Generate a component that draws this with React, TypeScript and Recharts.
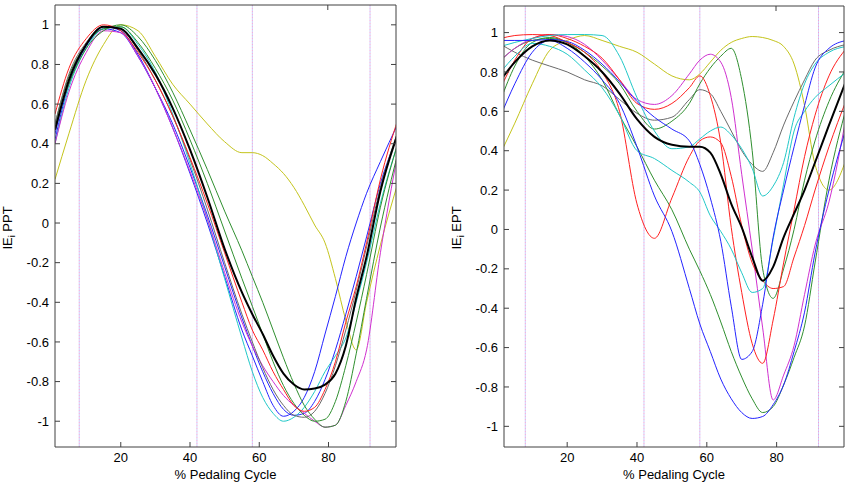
import { LineChart, Line, XAxis, YAxis, ReferenceLine } from 'recharts'

// % of pedaling cycle where the curves were sampled
const cyclePct = [1, 5, 10, 15, 20, 25, 30, 35, 40, 45, 50, 55, 58, 61, 64, 67, 70, 73, 76, 79, 82, 85, 88, 91, 95, 100]
const phaseLines = [8, 42, 58, 92]
const xTicks = [20, 40, 60, 80]
const yTicks = [-1, -0.8, -0.6, -0.4, -0.2, 0, 0.2, 0.4, 0.6, 0.8, 1]

// IE_i PPT (left panel)
const pptYellow = [0.22, 0.45, 0.72, 0.9, 1.0, 0.97, 0.84, 0.7, 0.6, 0.5, 0.41, 0.355, 0.355, 0.34, 0.3, 0.25, 0.18, 0.09, -0.01, -0.1, -0.28, -0.49, -0.64, -0.4, -0.11, 0.2]
const pptBlue1 = [0.45, 0.72, 0.9, 0.99, 0.97, 0.85, 0.68, 0.48, 0.25, 0.0, -0.27, -0.54, -0.67, -0.8, -0.92, -0.975, -0.95, -0.88, -0.75, -0.56, -0.37, -0.17, 0.0, 0.15, 0.31, 0.5]
const pptBlue2 = [0.42, 0.7, 0.89, 0.98, 0.96, 0.84, 0.68, 0.5, 0.28, 0.04, -0.22, -0.48, -0.62, -0.75, -0.86, -0.94, -0.97, -0.96, -0.9, -0.79, -0.64, -0.46, -0.27, -0.07, 0.2, 0.44]
const pptCyan = [0.4, 0.68, 0.88, 0.98, 0.99, 0.9, 0.76, 0.55, 0.3, 0.02, -0.28, -0.58, -0.75, -0.88, -0.96, -1.0, -0.98, -0.93, -0.85, -0.75, -0.67, -0.58, -0.4, -0.2, 0.1, 0.4]
const pptMagenta = [0.4, 0.66, 0.86, 0.97, 0.96, 0.84, 0.68, 0.48, 0.26, 0.02, -0.25, -0.5, -0.62, -0.72, -0.8, -0.87, -0.92, -0.96, -1.0, -1.03, -1.02, -0.92, -0.8, -0.64, -0.15, 0.35]
const pptGreen1 = [0.5, 0.74, 0.9, 0.98, 0.99, 0.91, 0.78, 0.62, 0.42, 0.2, -0.04, -0.28, -0.42, -0.56, -0.7, -0.82, -0.91, -0.97, -1.0, -0.99, -0.9, -0.72, -0.5, -0.26, 0.08, 0.4]
const pptGreen2 = [0.48, 0.7, 0.88, 0.97, 1.0, 0.94, 0.82, 0.66, 0.47, 0.27, 0.06, -0.14, -0.27, -0.4, -0.54, -0.68, -0.81, -0.92, -0.99, -1.03, -1.02, -0.9, -0.66, -0.38, -0.02, 0.35]
const pptGrey = [0.5, 0.75, 0.91, 0.99, 0.98, 0.87, 0.72, 0.54, 0.32, 0.07, -0.2, -0.46, -0.6, -0.73, -0.84, -0.92, -0.97, -0.98, -0.95, -0.86, -0.72, -0.54, -0.34, -0.12, 0.18, 0.46]
const pptRed = [0.55, 0.78, 0.93, 1.0, 0.97, 0.86, 0.72, 0.54, 0.33, 0.1, -0.15, -0.4, -0.54, -0.64, -0.75, -0.84, -0.92, -0.95, -0.93, -0.84, -0.7, -0.5, -0.32, -0.1, 0.22, 0.52]
const pptMean = [0.47, 0.72, 0.9, 0.99, 0.98, 0.88, 0.75, 0.58, 0.37, 0.13, -0.13, -0.35, -0.46, -0.56, -0.67, -0.76, -0.815, -0.84, -0.835, -0.815, -0.76, -0.62, -0.38, -0.17, 0.16, 0.45]

// IE_i EPT (right panel)
const eptYellow = [0.39, 0.54, 0.74, 0.91, 0.96, 0.985, 0.96, 0.93, 0.9, 0.84, 0.78, 0.76, 0.79, 0.85, 0.91, 0.95, 0.97, 0.98, 0.975, 0.96, 0.93, 0.84, 0.63, 0.33, 0.2, 0.36]
const eptGrey = [0.94, 0.9, 0.86, 0.83, 0.8, 0.76, 0.73, 0.66, 0.59, 0.555, 0.57, 0.66, 0.71, 0.69, 0.6, 0.5, 0.4, 0.33, 0.295, 0.39, 0.53, 0.65, 0.76, 0.86, 0.91, 0.94]
const eptGreenA = [0.86, 0.92, 0.96, 0.97, 0.95, 0.9, 0.83, 0.74, 0.6, 0.51, 0.55, 0.64, 0.74, 0.82, 0.88, 0.92, 0.76, 0.4, -0.2, -0.35, -0.2, 0.0, 0.25, 0.45, 0.65, 0.82]
const eptGreenB = [0.66, 0.83, 0.95, 0.975, 0.95, 0.88, 0.76, 0.58, 0.42, 0.25, 0.1, -0.1, -0.21, -0.33, -0.47, -0.62, -0.75, -0.86, -0.93, -0.9, -0.79, -0.65, -0.49, -0.17, 0.25, 0.62]
const eptMagenta = [0.86, 0.92, 0.97, 0.99, 0.98, 0.94, 0.86, 0.76, 0.66, 0.635, 0.68, 0.79, 0.86, 0.89, 0.85, 0.67, 0.28, -0.1, -0.5, -0.866, -0.74, -0.59, -0.33, -0.08, 0.14, 0.58]
const eptRedA = [0.72, 0.86, 0.97, 0.99, 0.97, 0.93, 0.87, 0.76, 0.64, 0.61, 0.64, 0.72, 0.78, 0.68, 0.44, 0.01, -0.32, -0.58, -0.68, -0.46, -0.17, 0.1, 0.37, 0.58, 0.78, 0.92]
const eptRedB = [0.97, 0.985, 0.99, 0.985, 0.95, 0.9, 0.8, 0.6, 0.13, -0.045, 0.16, 0.37, 0.45, 0.47, 0.44, 0.27, 0.02, -0.17, -0.26, -0.3, -0.29, -0.14, 0.02, 0.2, 0.42, 0.66]
const eptCyanA = [0.93, 0.95, 0.97, 0.985, 0.99, 0.99, 0.985, 0.88, 0.67, 0.5, 0.41, 0.42, 0.46, 0.5, 0.52, 0.48, 0.41, 0.31, 0.17, 0.22, 0.34, 0.57, 0.74, 0.84, 0.9, 0.93]
const eptCyanB = [0.8, 0.88, 0.945, 0.93, 0.89, 0.81, 0.72, 0.58, 0.4, 0.36, 0.3, 0.24, 0.19, 0.07, -0.01, -0.1, -0.22, -0.32, -0.3, -0.05, 0.23, 0.5, 0.6, 0.67, 0.73, 0.8]
const eptBlueA = [0.96, 0.96, 0.96, 0.965, 0.955, 0.91, 0.84, 0.75, 0.65, 0.57, 0.51, 0.45, 0.33, 0.16, -0.06, -0.39, -0.66, -0.62, -0.38, -0.04, 0.2, 0.42, 0.63, 0.82, 0.92, 0.96]
const eptBlueB = [0.58, 0.74, 0.9, 0.96, 0.92, 0.85, 0.76, 0.64, 0.42, 0.17, -0.01, -0.3, -0.48, -0.62, -0.76, -0.86, -0.93, -0.96, -0.95, -0.89, -0.79, -0.62, -0.42, -0.12, 0.2, 0.52]
const eptMean = [0.76, 0.85, 0.93, 0.96, 0.94, 0.88, 0.8, 0.69, 0.56, 0.47, 0.43, 0.42, 0.42, 0.39, 0.28, 0.13, 0.01, -0.14, -0.26, -0.19, -0.04, 0.08, 0.2, 0.34, 0.53, 0.76]

const BLUE = '#2424ff'
const GREEN = '#2f8f2f'
const RED = '#ff2020'
const CYAN = '#20c8c8'
const MAGENTA = '#d030d0'
const YELLOW = '#c4c41c'
const GREY = '#6a6a6a'
const AXIS = '#404040'

type Trace = { key: string; values: number[]; color: string; width?: number }

const pptTraces: Trace[] = [
  { key: 'yellow', values: pptYellow, color: YELLOW },
  { key: 'blue1', values: pptBlue1, color: BLUE },
  { key: 'blue2', values: pptBlue2, color: BLUE },
  { key: 'cyan', values: pptCyan, color: CYAN },
  { key: 'magenta', values: pptMagenta, color: MAGENTA },
  { key: 'green1', values: pptGreen1, color: GREEN },
  { key: 'green2', values: pptGreen2, color: GREEN },
  { key: 'grey', values: pptGrey, color: GREY },
  { key: 'red', values: pptRed, color: RED },
  { key: 'mean', values: pptMean, color: '#000', width: 2 },
]

const eptTraces: Trace[] = [
  { key: 'yellow', values: eptYellow, color: YELLOW },
  { key: 'grey', values: eptGrey, color: GREY },
  { key: 'greenA', values: eptGreenA, color: GREEN },
  { key: 'greenB', values: eptGreenB, color: GREEN },
  { key: 'magenta', values: eptMagenta, color: MAGENTA },
  { key: 'redA', values: eptRedA, color: RED },
  { key: 'redB', values: eptRedB, color: RED },
  { key: 'cyanA', values: eptCyanA, color: CYAN },
  { key: 'cyanB', values: eptCyanB, color: CYAN },
  { key: 'blueA', values: eptBlueA, color: BLUE },
  { key: 'blueB', values: eptBlueB, color: BLUE },
  { key: 'mean', values: eptMean, color: '#000', width: 2 },
]

const toRows = (traces: Trace[]) =>
  cyclePct.map((x, i) => {
    const row: Record<string, number> = { x }
    traces.forEach((t) => {
      row[t.key] = t.values[i]
    })
    return row
  })

const YName = ({ name }: { name: string }) => (
  <text x={12} y={228} transform="rotate(-90 12 228)" textAnchor="middle" fontSize={13} fill="#000">
    IE
    <tspan dy={3} fontSize={9}>i</tspan>
    <tspan dy={-3}>{' ' + name}</tspan>
  </text>
)

interface PanelProps {
  traces: Trace[]
  name: string
  left: number
  top: number
  right: number
  xDomain: [number, number]
  yDomain: [number, number]
}

// MATLAB-style boxed axes: mirrored top/right axes carry inward ticks only
const Panel = ({ traces, name, left, top, right, xDomain, yDomain }: PanelProps) => (
  <div style={{ position: 'absolute', left, top: 0 }}>
    <LineChart width={400} height={487} data={toRows(traces)} margin={{ top: top - 1, right: right - 1, bottom: 0, left: 0 }}>
      <XAxis
        dataKey="x"
        type="number"
        domain={xDomain}
        allowDataOverflow
        ticks={xTicks}
        height={40}
        tickSize={-5}
        tickMargin={11}
        stroke={AXIS}
        tick={{ fill: '#000', fontSize: 13 }}
        label={{ value: '% Pedaling Cycle', position: 'insideBottom', offset: 8, fill: '#000', fontSize: 13 }}
      />
      <XAxis
        xAxisId="top"
        orientation="top"
        type="number"
        domain={xDomain}
        allowDataOverflow
        ticks={xTicks}
        height={1}
        tickSize={-5}
        tickFormatter={() => ''}
        stroke={AXIS}
      />
      <YAxis
        type="number"
        domain={yDomain}
        allowDataOverflow
        ticks={yTicks}
        width={55}
        tickSize={-5}
        tickMargin={11}
        stroke={AXIS}
        tick={{ fill: '#000', fontSize: 13 }}
        label={<YName name={name} />}
      />
      <YAxis
        yAxisId="right"
        orientation="right"
        type="number"
        domain={yDomain}
        allowDataOverflow
        ticks={yTicks}
        width={1}
        tickSize={-5}
        tickFormatter={() => ''}
        stroke={AXIS}
      />
      {phaseLines.map((p) => (
        <ReferenceLine key={'a' + p} x={p} stroke="#f0a0d8" strokeDasharray="1 2" />
      ))}
      {phaseLines.map((p) => (
        <ReferenceLine key={'b' + p} x={p} stroke="#9a9af0" strokeDasharray="1 2" strokeDashoffset={1.5} />
      ))}
      {traces.map((t) => (
        <Line
          key={t.key}
          dataKey={t.key}
          type="monotone"
          stroke={t.color}
          strokeWidth={t.width ?? 1}
          dot={false}
          activeDot={false}
          isAnimationActive={false}
        />
      ))}
    </LineChart>
  </div>
)

export default function App() {
  return (
    <div
      style={{
        position: 'absolute',
        left: 0,
        top: 0,
        width: 851,
        height: 487,
        background: '#fff',
        fontFamily: '"Liberation Sans", Arial, sans-serif',
      }}
    >
      <Panel traces={pptTraces} name="PPT" left={0} top={5} right={4} xDomain={[1, 99.5]} yDomain={[-1.13, 1.1]} />
      <Panel traces={eptTraces} name="EPT" left={449} top={6} right={5} xDomain={[1.9, 99.3]} yDomain={[-1.105, 1.135]} />
    </div>
  )
}
